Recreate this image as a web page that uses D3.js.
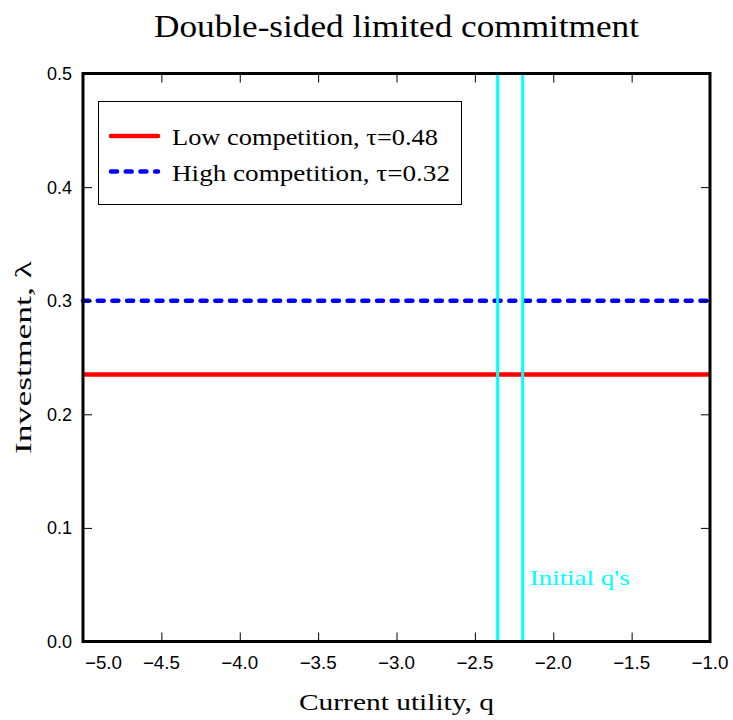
<!DOCTYPE html>
<html>
<head>
<meta charset="utf-8">
<script src="https://cdn.jsdelivr.net/npm/d3@7"></script>
<style>
  html, body { margin: 0; padding: 0; background: #fff; }
  svg { display: block; }
</style>
</head>
<body>
<svg id="chart" width="733" height="720"></svg>
<script>
// ---- data ----
const qDomain = [-5.0, -1.0];
const lambdaDomain = [0.0, 0.5];
const xTicks = [-5.0, -4.5, -4.0, -3.5, -3.0, -2.5, -2.0, -1.5, -1.0];
const yTicks = [0.0, 0.1, 0.2, 0.3, 0.4, 0.5];
const seriesNames = ["Low competition, \u03C4=0.48", "High competition, \u03C4=0.32"];
const seriesQ = [[-5.0, -1.0], [-5.0, -1.0]];
const lowCompetition = [0.235, 0.235];
const highCompetition = [0.300, 0.300];
const initialQs = [-2.355, -2.195];
const annotationText = "Initial q's";

const title = "Double-sided limited commitment";
const xTitle = "Current utility, q";
const yTitle = "Investment, \u03BB";

// ---- layout ----
const svg = d3.select("#chart");
const L = 83, R = 710, T = 73.5, B = 641.5;
const x = d3.scaleLinear().domain(qDomain).range([L, R]);
const y = d3.scaleLinear().domain(lambdaDomain).range([B, T]);

const serif = "'Liberation Serif', 'DejaVu Serif', serif";
const sans = "'Liberation Sans', Arial, sans-serif";

// title
svg.append("text")
  .attr("x", (L + R) / 2).attr("y", 37)
  .attr("text-anchor", "middle")
  .attr("font-family", serif).attr("font-size", 32)
  .attr("textLength", 485).attr("lengthAdjust", "spacingAndGlyphs")
  .attr("fill", "#000")
  .text(title);

// lines
const lineGen = d3.line().x(d => x(d[0])).y(d => y(d[1]));
const lowData = seriesQ[0].map((q, i) => [q, lowCompetition[i]]);
const highData = seriesQ[1].map((q, i) => [q, highCompetition[i]]);

svg.append("path").datum(lowData)
  .attr("d", lineGen).attr("fill", "none")
  .attr("stroke", "#ff0000").attr("stroke-width", 4.5);

svg.append("path").datum(highData)
  .attr("d", lineGen).attr("fill", "none")
  .attr("stroke", "#0000ff").attr("stroke-width", 4.5)
  .attr("stroke-linecap", "round")
  .attr("stroke-dasharray", "6,8.7");

// initial q's vertical lines
initialQs.forEach(q => {
  svg.append("line")
    .attr("x1", x(q)).attr("x2", x(q))
    .attr("y1", y(lambdaDomain[0])).attr("y2", y(lambdaDomain[1]))
    .attr("stroke", "#00ffff").attr("stroke-width", 3);
});

svg.append("text")
  .attr("x", x(initialQs[1]) + 7).attr("y", 585)
  .attr("font-family", serif).attr("font-size", 22)
  .attr("textLength", 100).attr("lengthAdjust", "spacingAndGlyphs")
  .attr("fill", "#00ffff")
  .text(annotationText);

// axes (ticks inward)
const tickLen = 9;
const axB = d3.axisBottom(x).tickValues(xTicks).tickSize(-tickLen).tickFormat("");
const axT = d3.axisTop(x).tickValues(xTicks).tickSize(-tickLen).tickFormat("");
const axL = d3.axisLeft(y).tickValues(yTicks).tickSize(-tickLen).tickFormat("");
const axR = d3.axisRight(y).tickValues(yTicks).tickSize(-tickLen).tickFormat("");

function styleAxis(g) {
  g.select(".domain").remove();
  g.selectAll(".tick line").attr("stroke", "#000").attr("stroke-width", 1);
}
svg.append("g").attr("transform", `translate(0,${B})`).call(axB).call(styleAxis);
svg.append("g").attr("transform", `translate(0,${T})`).call(axT).call(styleAxis);
svg.append("g").attr("transform", `translate(${L},0)`).call(axL).call(styleAxis);
svg.append("g").attr("transform", `translate(${R},0)`).call(axR).call(styleAxis);

// frame
svg.append("rect")
  .attr("x", L).attr("y", T).attr("width", R - L).attr("height", B - T)
  .attr("fill", "none").attr("stroke", "#000").attr("stroke-width", 3);

// tick labels
const fmt = d3.format(".1f");
const minus = s => s.replace("-", "\u2212");
svg.append("g").selectAll("text").data(xTicks).join("text")
  .attr("x", (d, i) => i === 0 ? L + 2 : x(d))
  .attr("y", 669)
  .attr("text-anchor", (d, i) => i === 0 ? "start" : "middle")
  .attr("font-family", sans).attr("font-size", 18)
  .attr("textLength", 37).attr("lengthAdjust", "spacingAndGlyphs")
  .attr("fill", "#000")
  .text(d => minus(fmt(d)));

svg.append("g").selectAll("text").data(yTicks).join("text")
  .attr("x", 72).attr("y", d => y(d) + 6.5)
  .attr("text-anchor", "end")
  .attr("font-family", sans).attr("font-size", 18)
  .attr("textLength", 25).attr("lengthAdjust", "spacingAndGlyphs")
  .attr("fill", "#000")
  .text(d => fmt(d));

// axis titles
svg.append("text")
  .attr("x", (L + R) / 2).attr("y", 710)
  .attr("text-anchor", "middle")
  .attr("font-family", serif).attr("font-size", 24)
  .attr("textLength", 195).attr("lengthAdjust", "spacingAndGlyphs")
  .attr("fill", "#000")
  .text(xTitle);

svg.append("text")
  .attr("transform", `translate(31,${(T + B) / 2}) rotate(-90)`)
  .attr("text-anchor", "middle")
  .attr("font-family", serif).attr("font-size", 24)
  .attr("textLength", 193).attr("lengthAdjust", "spacingAndGlyphs")
  .attr("fill", "#000")
  .text(yTitle);

// legend
const lg = svg.append("g");
lg.append("rect")
  .attr("x", 98.5).attr("y", 101.5).attr("width", 363).attr("height", 103)
  .attr("fill", "#fff").attr("stroke", "#000").attr("stroke-width", 1);
const legendRows = [
  { name: seriesNames[0], color: "#ff0000", dash: null, y: 136, w: 266 },
  { name: seriesNames[1], color: "#0000ff", dash: "6,8.7", y: 171.5, w: 278 }
];
legendRows.forEach(r => {
  const ln = lg.append("line")
    .attr("x1", 111).attr("x2", 158).attr("y1", r.y).attr("y2", r.y)
    .attr("stroke", r.color).attr("stroke-width", 4.5)
    .attr("stroke-linecap", "round");
  if (r.dash) ln.attr("stroke-dasharray", r.dash);
  lg.append("text")
    .attr("x", 172).attr("y", r.y + 9)
    .attr("font-family", serif).attr("font-size", 24)
    .attr("textLength", r.w).attr("lengthAdjust", "spacingAndGlyphs")
    .attr("fill", "#000")
    .text(r.name);
});
</script>
</body>
</html>
